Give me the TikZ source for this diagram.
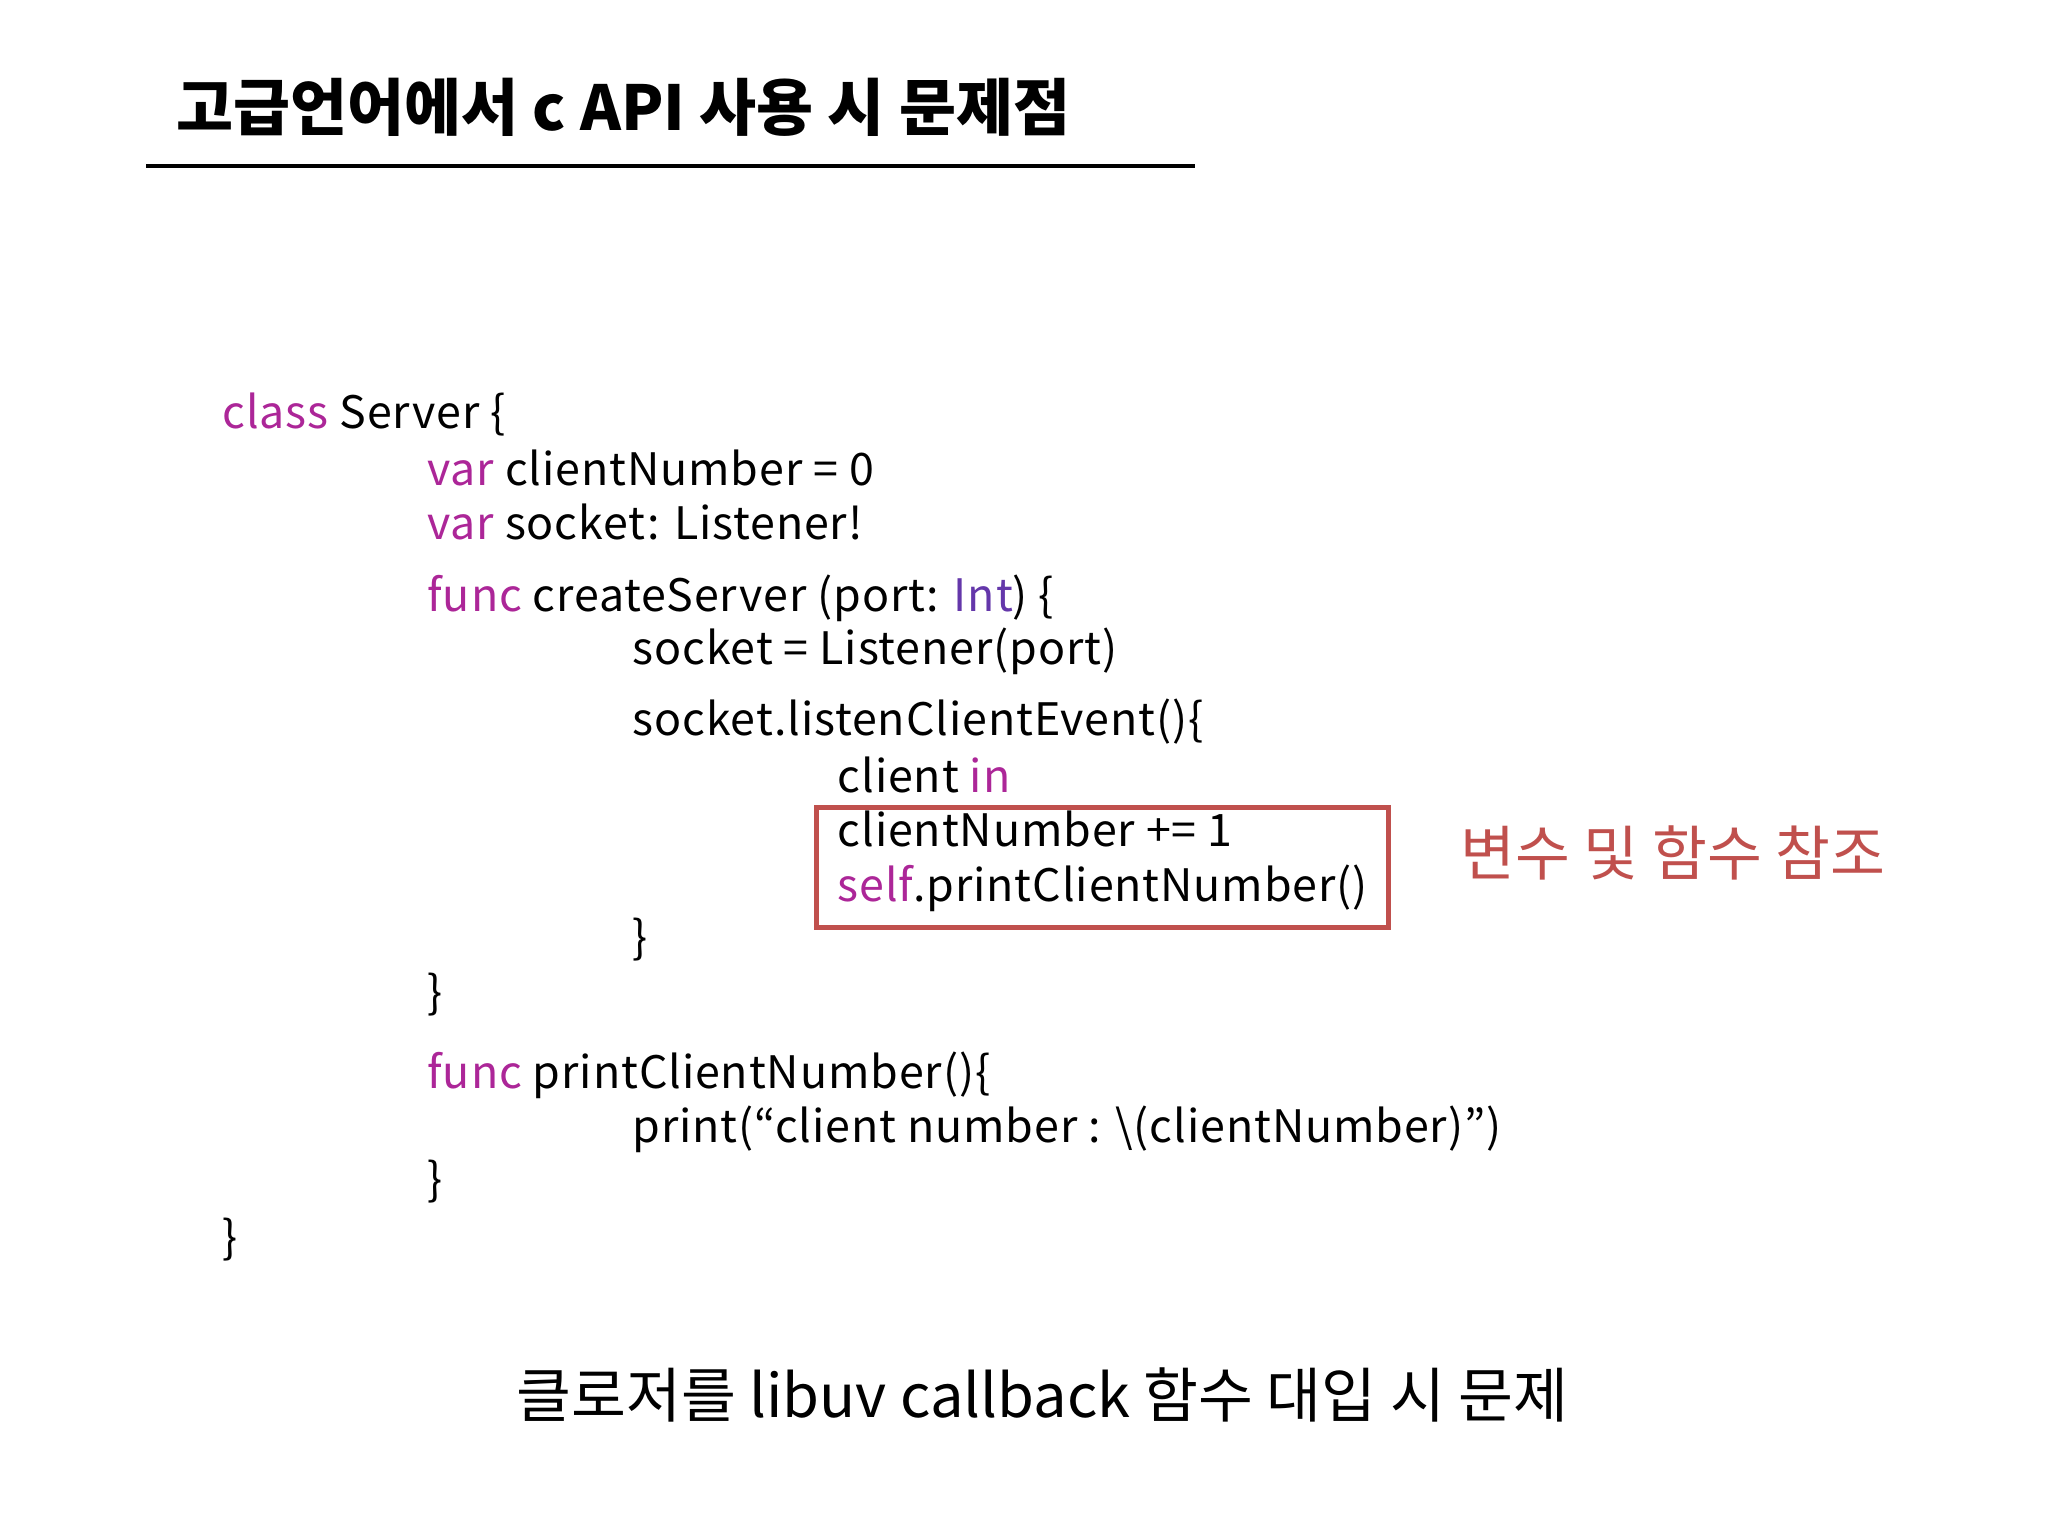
\documentclass[tikz,border=0pt]{standalone}
\usepackage{fontspec}
\setmainfont{Noto Sans CJK KR}
\definecolor{kw}{RGB}{172,38,152}
\definecolor{ty}{RGB}{100,55,170}
\definecolor{rd}{RGB}{192,80,77}
\begin{document}
\begin{tikzpicture}[x=0.02cm,y=-0.02cm,
  code/.style={anchor=base west,inner sep=0pt,font=\fontsize{19.5}{22}\selectfont\addfontfeatures{LetterSpace=2}}]
\useasboundingbox[fill=white] (0,0) rectangle (1568,1176);
\node[anchor=base west,inner sep=0pt,font=\fontsize{27}{32}\selectfont\bfseries] (title) at (135,100) {고급언어에서 c API 사용 시 문제점};
\coordinate (l1) at (112,127); \coordinate (l2) at (915,127);
\draw[line width=1.5pt] (l1) -- (l2);
\node[code] (c1) at (170,328) {\textcolor{kw}{class} Server \{};
\node[code] (c2) at (327,372) {\textcolor{kw}{var} clientNumber = 0};
\node[code] (c3) at (327,413) {\textcolor{kw}{var} socket: Listener!};
\node[code] (c4) at (327,468) {\textcolor{kw}{func} createServer (port: \textcolor{ty}{Int}) \{};
\node[code] (c5) at (484,509) {socket = Listener(port)};
\node[code] (c6) at (484,563) {socket.listenClientEvent()\{};
\node[code] (c7) at (641,607) {client \textcolor{kw}{in}};
\node[code] (c8) at (641,648) {clientNumber += 1};
\node[code] (c9) at (641,690) {\textcolor{kw}{self}.printClientNumber()};
\node[code] (c10) at (484,730) {\}};
\node[code] (c11) at (327,772) {\}};
\node[code] (c12) at (327,833) {\textcolor{kw}{func} printClientNumber()\{};
\node[code] (c13) at (484,875) {print(“client number : \textbackslash(clientNumber)”)};
\node[code] (c14) at (327,915) {\}};
\node[code] (c15) at (170,960) {\}};
\draw[rd,line width=2.3pt] (625,618) rectangle (1063,710);
\node[anchor=base west,inner sep=0pt,text=rd,font=\fontsize{26}{30}\selectfont] (lab) at (1118,670) {변수 및 함수 참조};
\node[anchor=base,inner sep=0pt,font=\fontsize{26}{30}\selectfont] (bot) at (798,1085) {클로저를 libuv callback 함수 대입 시 문제};
\end{tikzpicture}
\end{document}
